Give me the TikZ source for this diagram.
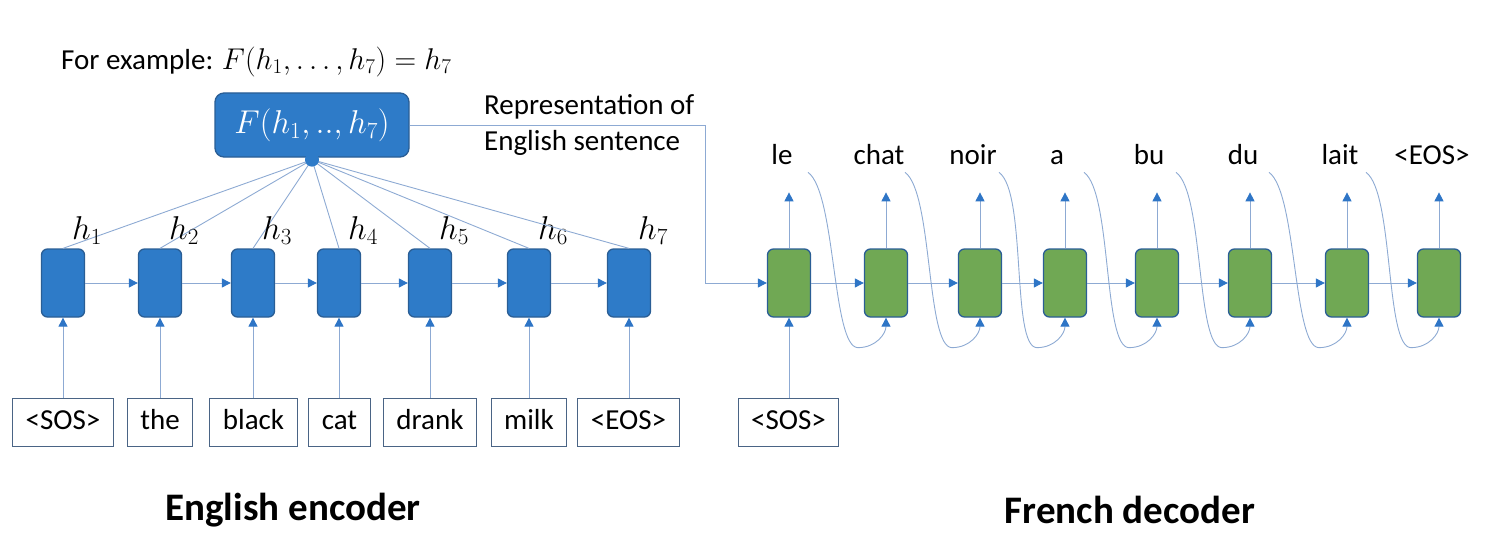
\RequirePackage{fix-cm}
\documentclass[tikz,border=0pt]{standalone}
\usepackage{fontspec}
\setmainfont{Carlito}
\usetikzlibrary{arrows.meta,positioning}
\definecolor{cellblue}{HTML}{2E7BC8}
\definecolor{cellline}{HTML}{2A5E95}
\definecolor{cellgreen}{HTML}{70A854}
\definecolor{linkblue}{HTML}{8DAAD3}
\definecolor{tipblue}{HTML}{2E75C6}
\definecolor{boxline}{HTML}{4A6485}
\begin{document}
\begin{tikzpicture}[x=1pt,y=-1pt,
	enc/.style={draw=cellline,fill=cellblue,line width=1.3pt,rounded corners=6pt,minimum width=43pt,minimum height=68pt,inner sep=0pt},
	dec/.style={enc,fill=cellgreen},
	word/.style={draw=boxline,line width=1pt,fill=white,inner xsep=13pt,minimum height=48pt,text height=20pt,text depth=6pt,font=\fontsize{29}{34}\selectfont},
	txt/.style={font=\fontsize{29}{36}\selectfont,inner sep=0pt},
	wlab/.style={txt,text height=20pt,text depth=6pt},
	link/.style={draw=linkblue,line width=0.9pt},
	arr/.style={link,-{Triangle[length=9pt,width=9pt,color=tipblue]}},
	hlab/.style={font=\fontsize{33}{38}\selectfont,inner sep=0pt},
	title/.style={font=\fontsize{39}{46}\selectfont\bfseries,inner sep=0pt}]
	\useasboundingbox (0,0) rectangle (1500,543);
	% encoder
	\foreach \x [count=\i] in {63,160,253,339,430,529,629}
		\node[enc] (e\i) at (\x,283) {};
	\foreach \i [count=\j from 2] in {1,...,6}
		\draw[arr] (e\i) -- (e\j);
	\foreach \x/\w [count=\i] in {63/<SOS>,160/the,253.5/black,339.5/cat,430/drank,529/milk,628.5/<EOS>}{
		\node[word] (w\i) at (\x,422) {\w};
		\draw[arr] (e\i |- w\i.north) -- (e\i.south);
	}
	\node[enc,minimum width=194pt,minimum height=64pt,rounded corners=9pt,text=white] (F) at (312,125)
		{\fontsize{33}{38}\selectfont$F(h_1,..,h_7)$};
	\coordinate (hub) at ([yshift=-2pt]F.south);
	\foreach \i in {1,...,7}{
		\draw[link] (hub) -- (e\i.north);
		\node[hlab] (h\i) at ([xshift=24pt,yshift=18pt]e\i.north) {$h_\i$};
	}
	\fill[cellblue] (hub) circle (7pt);
	\node[txt,anchor=west] (ex) at (61,62) {For example: {\fontsize{30}{36}\selectfont$F(h_1,\ldots,h_7)=h_7$}};
	% decoder
	\foreach \x [count=\i] in {789,886,980,1065,1157,1250,1347,1439}{
		\node[dec] (d\i) at (\x,283) {};
		\coordinate (o\i) at ([yshift=56pt]d\i.north);
		\draw[arr] (d\i.north) -- (o\i);
	}
	\foreach \i [count=\j from 2] in {1,...,7}{
		\draw[arr] (d\i) -- (d\j);
		\coordinate (s\i) at ([xshift=19pt,yshift=76pt]d\i.north);
		\draw[arr] (s\i) .. controls +(28,20) and +(-26,0) .. ([xshift=-28pt,yshift=-30pt]d\j.south)
			.. controls +(18,0) and +(0,16) .. (d\j.south);
	}
	\foreach \x/\w [count=\i] in {782/le,879/chat,973/noir,1057/a,1149/bu,1243/du,1340/lait,1432/<EOS>}
		\node[wlab] (t\i) at (\x,157) {\w};
	\node[word] (ws) at (788.5,422) {<SOS>};
	\draw[arr] (d1 |- ws.north) -- (d1.south);
	% representation
	\coordinate (bend) at (705,283);
	\draw[arr] (F.east) -| (bend) -- (d1.west);
	\node[txt,align=left,anchor=west] (rep) at (484,125) {Representation of\\English sentence};
	\node[title] (enct) at (293,510) {English encoder};
	\node[title] (dect) at (1130,510) {French decoder};
\end{tikzpicture}
\end{document}
